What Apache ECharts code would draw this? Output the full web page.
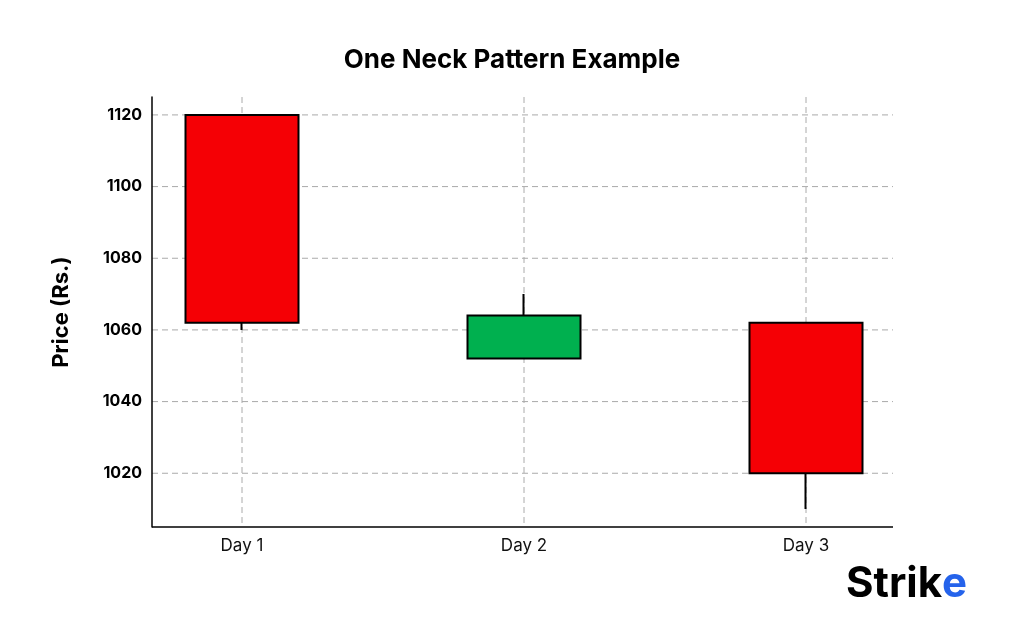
<!DOCTYPE html>
<html><head><meta charset="utf-8">
<script src="https://cdn.jsdelivr.net/npm/echarts@6/dist/echarts.min.js"></script>
<style>html,body{margin:0;background:#fff}#c{width:1024px;height:640px}</style>
</head><body><div id="c"></div>
<script>
const categories = ['Day 1', 'Day 2', 'Day 3'];
// [open, close, low, high]
const candles = [
  [1120, 1062, 1060, 1120],
  [1052, 1064, 1052, 1070],
  [1062, 1020, 1010, 1062]
];
const yTicks = [1020, 1040, 1060, 1080, 1100, 1120];
const yMin = 1005, yMax = 1125;

const chart = echarts.init(document.getElementById('c'));
const font = 'Inter, "Open Sans", sans-serif';
chart.setOption({
  animation: false,
  title: { text: 'One Neck Pattern Example', left: 'center', top: 42,
    textStyle: { fontFamily: font, fontWeight: 'bold', fontSize: 26, color: '#000' } },
  grid: { left: 101, width: 846, top: 97, height: 430 },
  xAxis: { type: 'category', data: categories, boundaryGap: true,
    axisLine: { show: false }, axisTick: { show: false },
    axisLabel: { fontFamily: font, fontSize: 17, color: '#111', margin: 10 } },
  yAxis: { type: 'value', min: yMin, max: yMax, interval: 0.5, offset: -51,
    name: 'Price (Rs.)', nameLocation: 'middle', nameGap: 80,
    nameTextStyle: { fontFamily: font, fontWeight: 'bold', fontSize: 22, color: '#000' },
    axisLine: { show: true, lineStyle: { color: '#000', width: 1.5 } },
    axisTick: { show: false }, splitLine: { show: false },
    axisLabel: { fontFamily: font, fontWeight: 'bold', fontSize: 16, color: '#000', margin: 10,
      formatter: v => yTicks.includes(v) ? String(v) : '' } },
  series: [{
    type: 'candlestick', data: candles, barWidth: 114, z: 5,
    itemStyle: { color: '#00b04f', color0: '#f50005', borderColor: '#000', borderColor0: '#000', borderWidth: 2 }
  }]
});

const L = 152, R = 893;
const p = v => chart.convertToPixel({ yAxisIndex: 0 }, v);
const px = c => chart.convertToPixel({ xAxisIndex: 0 }, c);
const dash = { stroke: '#aaa', lineWidth: 1, lineDash: [6, 4] };
const g = yTicks.map(t => ({ type: 'line', z: -10, silent: true,
  shape: { x1: L, y1: p(t), x2: R, y2: p(t) }, style: dash }));
categories.forEach(c => g.push({ type: 'line', z: -10, silent: true,
  shape: { x1: px(c), y1: p(yMax), x2: px(c), y2: p(yMin) }, style: dash }));
g.push({ type: 'line', shape: { x1: L, y1: p(yMin), x2: R, y2: p(yMin) }, style: { stroke: '#000', lineWidth: 1.5 } });
g.push({ type: 'text', left: 846, top: 563, style: { text: 'Strik', fontFamily: font, fontWeight: 'bold', fontSize: 42, fill: '#000' } });
g.push({ type: 'text', left: 942, top: 563, style: { text: 'e', fontFamily: font, fontWeight: 'bold', fontSize: 42, fill: '#2563eb' } });
chart.setOption({ graphic: { elements: g, z: -10 } });
</script></body></html>
